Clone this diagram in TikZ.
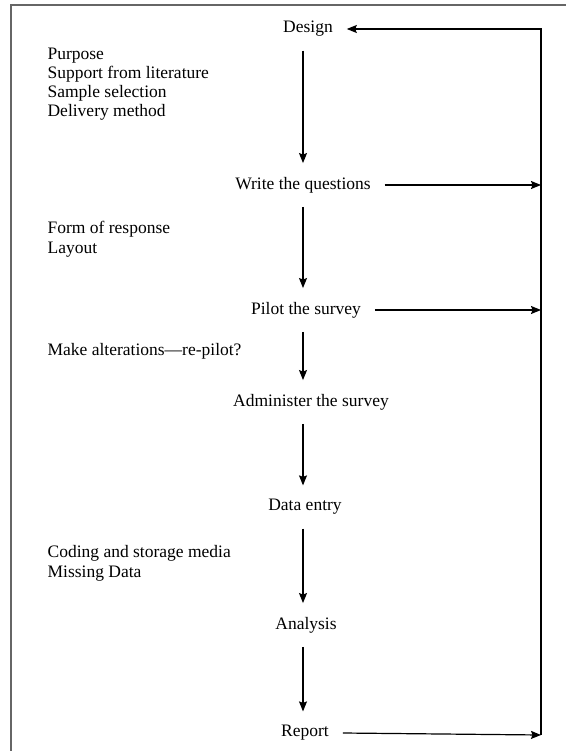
\documentclass[tikz,border=0pt]{standalone}
\usepackage{fontspec}
\setmainfont{Liberation Serif}
\usetikzlibrary{arrows.meta}

\begin{document}
\begin{tikzpicture}[x=1pt,y=-1pt,-{Stealth[length=10pt,width=8pt,inset=1.5pt]},line width=1.2pt]
\tikzstyle{stage}=[inner sep=0pt,outer sep=14pt,font=\fontsize{17.5}{19.3}\selectfont]
\tikzstyle{note}=[inner sep=0pt,anchor=north west,align=left,font=\fontsize{17.5}{19.3}\selectfont]
\tikzstyle{frame}=[-,draw=black!60,line width=1.5pt]

\useasboundingbox (0,0) rectangle (566,751);
\draw[frame] (11,751) -- (11,5) -- (566,5);

\coordinate (spine) at (303,0);
\coordinate (loop top) at (541,29);
\coordinate (loop bottom) at (541,735);

% steps of the survey
\node[stage] (design)  at (308,29)  {Design};
\node[stage] (write)   at (303,185) {Write the questions};
\node[stage] (pilot)   at (306,310) {Pilot the survey};
\node[stage] (admin)   at (311,402) {Administer the survey};
\node[stage] (entry)   at (305,507) {Data entry};
\node[stage] (analyse) at (306,625) {Analysis};
\node[stage] (report)  at (305,733) {Report};

% notes on the left
\node[note] (design notes) at (47,47) {Purpose\\Support from literature\\Sample selection\\Delivery method};
\node[note] (write notes)  at (47,221) {Form of response\\Layout};
\node[note] (pilot notes)  at (47,343) {Make alterations---re-pilot?};
\node[note] (entry notes)  at (47,545) {Coding and storage media\\Missing Data};

\draw (design.south -| spine)  -- (write.north -| spine);
\draw (write.south -| spine)   -- (pilot.north -| spine);
\draw (pilot.south -| spine)   -- (admin.north -| spine);
\draw (admin.south -| spine)   -- (entry.north -| spine);
\draw (entry.south -| spine)   -- (analyse.north -| spine);
\draw (analyse.south -| spine) -- (report.north -| spine);

% feedback loop
\draw (write.east)  -- (write -| loop top);
\draw (pilot.east)  -- (pilot -| loop top);
\draw (report.east) -- (loop bottom);
\draw (loop bottom) -- (loop top) -- (design.east);

\end{tikzpicture}
\end{document}
